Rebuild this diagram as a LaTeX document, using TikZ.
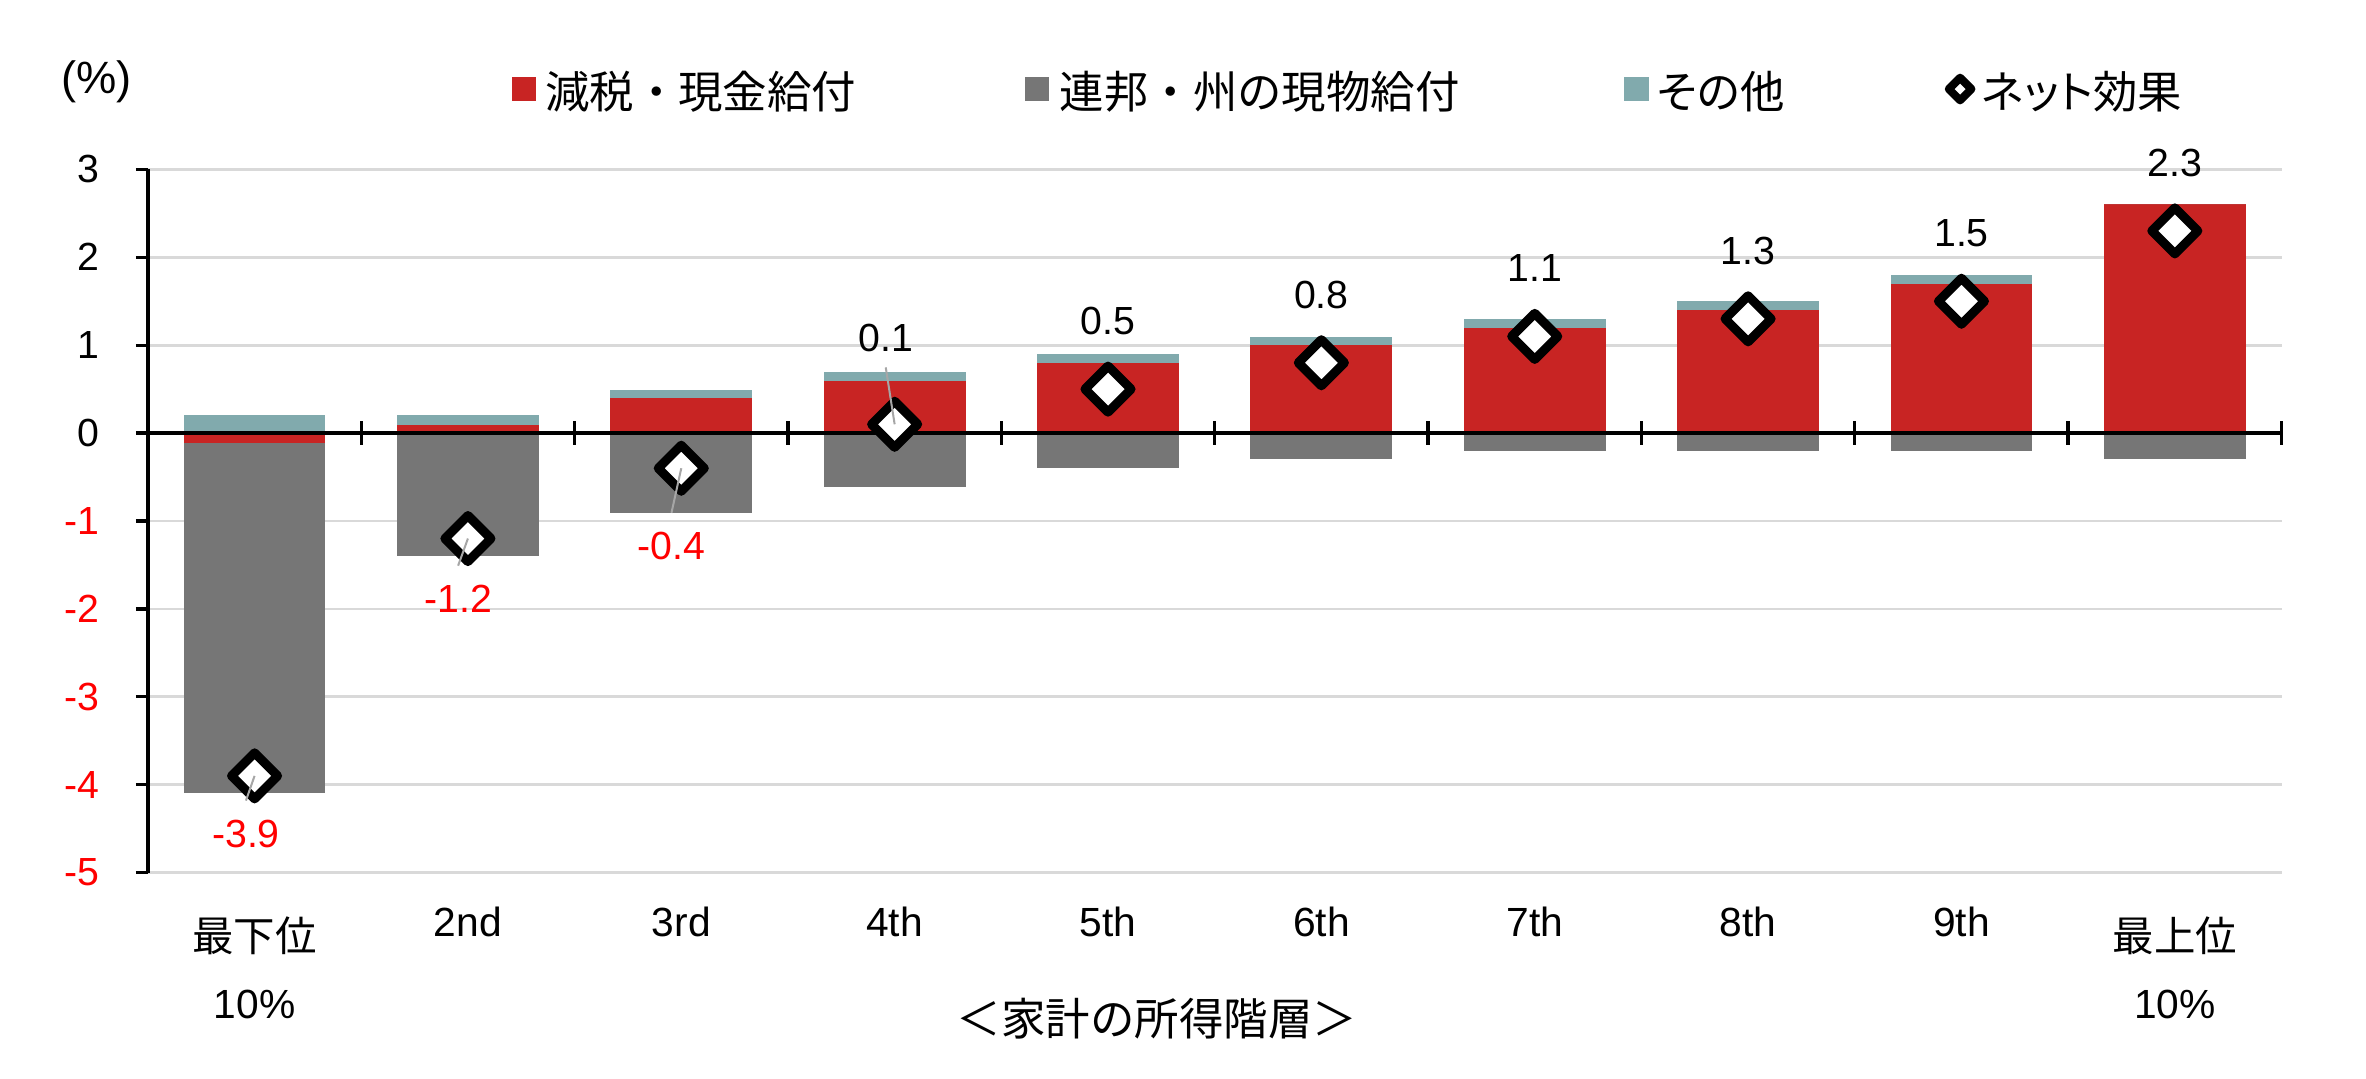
\documentclass[tikz,border=0pt]{standalone}
\usepackage{fontspec}
\setmainfont{Liberation Sans}
\newfontfamily\jp{Noto Sans CJK JP}
\newfontfamily\jpp[RawFeature=+palt]{Noto Sans CJK JP}
\usetikzlibrary{shapes.geometric}
\definecolor{barred}{RGB}{200,36,35}
\definecolor{bargrey}{RGB}{118,118,118}
\definecolor{barother}{RGB}{129,170,173}
\definecolor{gridc}{RGB}{217,217,217}
\definecolor{leadc}{RGB}{166,166,166}
\definecolor{negred}{RGB}{255,0,0}
\begin{document}
\begin{tikzpicture}[x=0.75pt,y=-0.75pt,
  declare function={vy(\v)=287-58.25*\v; cx(\i)=98+141.4*(\i-0.5);},
  gridline/.style={gridc,line width=1.35pt},
  axisline/.style={black,line width=1.65pt},
  num/.style={font=\fontsize{19.5pt}{22pt}\selectfont,inner sep=0pt},
  vlabel/.style={num,inner sep=7.5pt},
  nlabel/.style={num,inner sep=9.5pt,text=negred},
  netmark/.style={diamond,aspect=1,draw=black,fill=white,line width=4.5pt,line join=round,inner sep=0pt,minimum size=24.75pt},
  legmark/.style={netmark,line width=4pt,minimum size=12.9pt},
  legsq/.style={rectangle,inner sep=0pt,minimum width=12pt,minimum height=11.6pt},
  legtext/.style={anchor=west,inner sep=0pt,font=\jp\fontsize{22.1pt}{26pt}\selectfont},
  legtextp/.style={legtext,font=\jpp\fontsize{22.1pt}{26pt}\selectfont},
  catlat/.style={font=\fontsize{20.25pt}{24pt}\selectfont,inner sep=0pt},
  catjp/.style={font=\jp\fontsize{20.6pt}{24pt}\selectfont,inner sep=0pt},
  leader/.style={leadc,line width=1pt},
]
\fill[white] (0,0) rectangle (1568,715);
\useasboundingbox (0,0) rectangle (1568,715);

% gridlines
\foreach \v in {3,2,1,-1,-2,-3,-4,-5}
  \draw[gridline] (98,{vy(\v)}) -- (1512,{vy(\v)});

% bars
\fill[barother] ({cx(1)-47},{vy(0)}) rectangle ({cx(1)+47},{vy(0.2)});
\fill[barred]   ({cx(1)-47},{vy(0)}) rectangle ({cx(1)+47},{vy(-0.11)});
\fill[bargrey]  ({cx(1)-47},{vy(-0.11)}) rectangle ({cx(1)+47},{vy(-4.1)});
\foreach \i/\r/\o/\g in {2/0.09/0.2/-1.4, 3/0.40/0.49/-0.91, 4/0.59/0.69/-0.61,
    5/0.80/0.90/-0.40, 6/1.00/1.09/-0.30, 7/1.19/1.295/-0.20, 8/1.40/1.50/-0.20,
    9/1.70/1.795/-0.20, 10/2.61/2.61/-0.30} {
  \fill[barred]   ({cx(\i)-47},{vy(0)}) rectangle ({cx(\i)+47},{vy(\r)});
  \fill[barother] ({cx(\i)-47},{vy(\r)}) rectangle ({cx(\i)+47},{vy(\o)});
  \fill[bargrey]  ({cx(\i)-47},{vy(0)}) rectangle ({cx(\i)+47},{vy(\g)});
}

% axes
\draw[axisline] (98,{vy(3)}) -- (98,{vy(-5)});
\foreach \v in {3,2,...,-5}
  \draw[axisline] (90,{vy(\v)}) -- (98,{vy(\v)});
\draw[axisline] (98,{vy(0)}) -- (1512,{vy(0)});
\foreach \k in {1,...,10}
  \draw[axisline] ({98+141.4*\k},{vy(0)-8}) -- ({98+141.4*\k},{vy(0)+8});

% y tick labels
\foreach \v [count=\c] in {3,2,1,0}
  \node[num,anchor=east] (yp\c) at (66,{vy(\v)}) {\v};
\foreach \v [count=\c] in {-1,-2,-3,-4,-5}
  \node[num,anchor=east,text=negred] (yn\c) at (66,{vy(\v)}) {\v};

% axis title
\node[font=\fontsize{22.5pt}{26pt}\selectfont,inner sep=0pt] (yt) at (63.8,54) {(\%)};

% categories
\node[catjp] (c1) at ({cx(1)},620) {最下位};
\node[catlat] (c1b) at ({cx(1)},666) {10\%};
\foreach \i/\t in {2/2nd,3/3rd,4/4th,5/5th,6/6th,7/7th,8/8th,9/9th}
  \node[catlat] (c\i) at ({cx(\i)},611) {\t};
\node[catjp] (c10) at ({cx(10)},620) {最上位};
\node[catlat] (c10b) at ({cx(10)},666) {10\%};
\node[font=\jp\fontsize{22.1pt}{26pt}\selectfont,inner sep=0pt] (xt) at (766.7,675) {＜家計の所得階層＞};

% legend
\node[legsq,fill=barred] (k1) at (347,59) {};
\node[legtext] (t1) at (361,60.8) {減税・現金給付};
\node[legsq,fill=bargrey] (k2) at (687.3,59) {};
\node[legtext] (t2) at (702,60.8) {連邦・州の現物給付};
\node[legsq,fill=barother] (k3) at (1084.5,59) {};
\node[legtextp] (t3) at (1098,60.8) {その他};
\node[legmark] (k4) at (1299,59) {};
\node[legtextp] (t4) at (1313,60.8) {ネット効果};

% net effect markers
\foreach \i/\v in {1/-3.9,2/-1.2,3/-0.4,4/0.1,5/0.5,6/0.8,7/1.1,8/1.3,9/1.5,10/2.3}
  \node[netmark] (n\i) at ({cx(\i)},{vy(\v)}) {};

% data labels
\foreach \i/\v in {5/0.5,6/0.8,7/1.1,8/1.3,9/1.5,10/2.3}
  \node[vlabel] (l\i) at ({cx(\i)},{vy(\v)-45}) {\v};
\node[vlabel] (l4) at (587,224) {0.1};
\node[nlabel] (l1) at (163,552.7) {-3.9};
\node[nlabel] (l2) at (303.6,396.9) {-1.2};
\node[nlabel] (l3) at (445,362) {-0.4};

% leader lines
\draw[leader] (l4.south) -- (n4.center);
\draw[leader] (n3.center) -- (l3.north);
\draw[leader] (n2.center) -- (l2.north);
\draw[leader] (n1.center) -- (l1.north);
\end{tikzpicture}
\end{document}
